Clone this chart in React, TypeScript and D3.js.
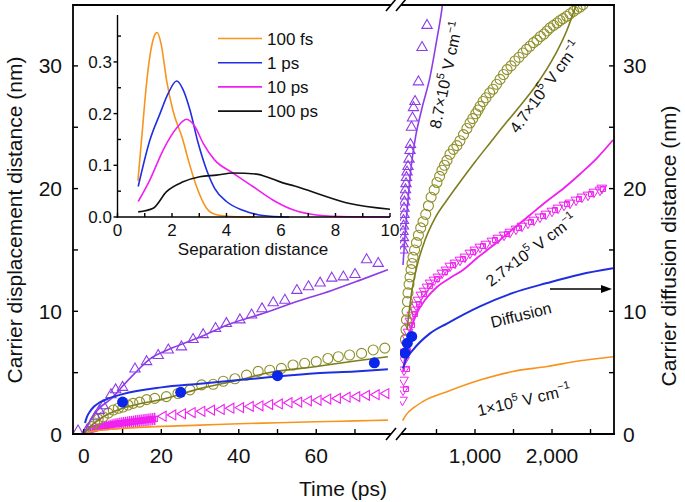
import * as d3 from 'd3';

type P = [number, number];

// ---- inset: separation distance distributions ----
const insetNames = ['100 fs', '1 ps', '10 ps', '100 ps'];
const insetColors = ['#f7941d', '#1f2fe0', '#f020f0', '#111111'];
const inset100fs: P[] = [[0.75, 0.07], [0.9, 0.16], [1.05, 0.25], [1.2, 0.315], [1.35, 0.35], [1.45, 0.357], [1.6, 0.335], [1.8, 0.265], [2.03, 0.207], [2.4, 0.149], [2.6, 0.11], [2.9, 0.059], [3.27, 0.017], [3.6, 0.005], [4.2, 0.001], [5, 0]];
const inset1ps: P[] = [[0.76, 0.059], [1.19, 0.149], [1.56, 0.2], [1.86, 0.239], [2.17, 0.263], [2.41, 0.246], [2.66, 0.207], [2.96, 0.143], [3.27, 0.091], [3.57, 0.055], [4.0, 0.03], [4.6, 0.013], [5.2, 0.004], [6.0, 0.0005], [6.3, 0]];
const inset10ps: P[] = [[0.76, 0.03], [1.19, 0.072], [1.68, 0.13], [2.17, 0.172], [2.53, 0.189], [2.84, 0.175], [3.14, 0.143], [3.57, 0.11], [4.24, 0.085], [4.97, 0.059], [5.7, 0.033], [6.44, 0.014], [7.3, 0.004], [8.5, 0.0005], [10, 0]];
const inset100ps: P[] = [[0.76, 0.01], [1.31, 0.017], [1.8, 0.049], [2.41, 0.068], [3.02, 0.078], [3.63, 0.081], [4.24, 0.085], [5.1, 0.083], [5.46, 0.078], [6.07, 0.066], [6.5, 0.06], [7.3, 0.046], [8.52, 0.026], [10, 0.015]];
const insetXTicks = [0, 2, 4, 6, 8, 10];
const insetYTicks = [0, 0.1, 0.2, 0.3];

// ---- main plot, left panel (0-80 ps) ----
const purpleTriL: P[] = [[-1.5, 0.25], [0.8, 0.3], [3, 1.4], [4, 1.9], [5, 2.3], [7, 3.2], [8.2, 3.6], [10, 3.8], [13.2, 5.3], [16.2, 5.9], [19.2, 6.4], [21.8, 6.85], [25.2, 7.1], [28.2, 7.7], [30.8, 8.1], [34, 8.6], [36.8, 9.0], [40.3, 9.3], [43.3, 9.7], [46, 10.2], [48.9, 10.7], [51.9, 10.9], [55, 11.7], [58, 12.0], [61, 12.3], [64, 12.7], [67, 12.8], [70, 13.0], [73, 14.2], [76, 13.9]];
const purpleLineL: P[] = [[0.3, 0.2], [1, 0.7], [2, 1.3], [4, 2.1], [7.5, 3.0], [10, 3.9], [13, 4.9], [17, 6.1], [22, 6.9], [30, 7.9], [38, 9.0], [47, 9.9], [55, 10.8], [64, 11.7], [71, 12.5], [78.5, 13.4]];
const oliveCircL: P[] = [[2.0, 0.6], [2.8, 0.9], [3.7, 1.2], [5.0, 1.4], [6.3, 1.7], [7.6, 1.95], [8.9, 2.1], [10.1, 2.2], [11.4, 2.36], [12.7, 2.5], [14.4, 2.6], [16.2, 2.8], [18.3, 2.9], [21.3, 3.05], [24.3, 3.3], [27.4, 3.6], [30.4, 4.0], [33.4, 4.05], [36, 4.3], [39, 4.5], [42, 4.8], [45, 5.1], [48, 5.2], [51, 5.35], [54, 5.62], [57, 5.76], [60, 5.9], [63, 6.15], [65.7, 6.3], [68.6, 6.44], [71.7, 6.57], [74.7, 6.85], [77.7, 7.0]];
const oliveLineL: P[] = [[0.3, 0.1], [2, 0.7], [5, 1.4], [10, 2.1], [15, 2.5], [20, 2.8], [30, 3.7], [40, 4.4], [47, 4.95], [60, 5.5], [70, 5.95], [78.5, 6.3]];
const blueDotL: P[] = [[10, 2.6], [25, 3.4], [50, 4.75], [75, 5.8]];
const blueLineL: P[] = [[0.3, 0.9], [0.8, 1.4], [1.5, 1.8], [2.5, 2.2], [4, 2.55], [6, 2.85], [10, 3.25], [20, 3.8], [30, 4.1], [40, 4.4], [47, 4.6], [60, 4.95], [70, 5.1], [78.5, 5.27]];
const magTriT = [20.5, 23, 25.5, 28, 30.5, 33, 35.5, 38, 40.5, 43, 45.5, 48, 50.5, 53, 55.5, 58, 60.5, 63, 65.5, 68, 70.5, 73, 75.5, 78];
const magTriV = [1.45, 1.55, 1.65, 1.75, 1.85, 1.95, 2.0, 2.1, 2.15, 2.25, 2.3, 2.4, 2.45, 2.55, 2.6, 2.7, 2.75, 2.85, 2.9, 3.0, 3.05, 3.15, 3.2, 3.3];
const magSqT = [1.8, 2.3, 2.8, 3.3, 3.8, 4.3, 4.8, 5.3, 5.8, 6.3, 6.8, 7.3, 7.8, 8.3, 8.8, 9.3, 9.8, 10.3, 10.8, 11.3, 11.8, 12.3, 12.8, 13.3, 13.8, 14.3, 14.8, 15.3, 15.8, 16.3, 16.8, 17.3, 17.8, 18.3];
const magSqV = [0.35, 0.4, 0.45, 0.5, 0.55, 0.58, 0.62, 0.65, 0.68, 0.71, 0.74, 0.77, 0.8, 0.82, 0.84, 0.87, 0.89, 0.91, 0.93, 0.95, 0.97, 0.99, 1.01, 1.03, 1.05, 1.07, 1.09, 1.11, 1.13, 1.15, 1.17, 1.19, 1.21, 1.23];
const magSqErr = [0.2, 0.22, 0.25, 0.27, 0.3, 0.32, 0.34, 0.36, 0.38, 0.4, 0.42, 0.44, 0.45, 0.46, 0.46, 0.47, 0.47, 0.48, 0.48, 0.48, 0.49, 0.49, 0.49, 0.5, 0.5, 0.5, 0.5, 0.5, 0.5, 0.5, 0.5, 0.5, 0.5, 0.5];
const orangeLineL: P[] = [[0, 0], [1, 0.12], [3, 0.25], [5, 0.32], [10, 0.45], [20, 0.62], [30, 0.72], [40, 0.83], [50, 0.92], [60, 1.0], [70, 1.07], [78.5, 1.13]];

// ---- main plot, right panel (up to 2,800 ps) ----
const orangeLineR: P[] = [[60, 1.1], [110, 1.6], [195, 2.1], [325, 2.65], [636, 3.45], [1065, 4.4], [1494, 5.1], [1935, 5.5], [2364, 5.97], [2792, 6.3]];
const blueLineR: P[] = [[65, 5.35], [100, 6.0], [195, 6.85], [416, 8.2], [636, 9.0], [1065, 10.4], [1494, 11.5], [1935, 12.3], [2364, 13.0], [2792, 13.5]];
const blueDotR: P[] = [[91, 6.6], [121, 7.4], [178, 7.95]];
const magLineR: P[] = [[65, 5.05], [104, 6.85], [156, 8.31], [234, 9.7], [351, 10.92], [506, 11.98], [675, 12.71], [844, 13.37], [1026, 14.34], [1260, 15.48], [1494, 16.71], [1714, 17.85], [1935, 18.99], [2156, 20.05], [2364, 21.19], [2584, 22.49], [2792, 23.96]];
const magMarkR: P[] = [[58, 2.77], [65, 3.59], [71, 4.4], [78, 5.22], [84, 6.03], [91, 6.68], [104, 7.25], [117, 7.82], [130, 8.31], [143, 8.8], [156, 9.21], [182, 9.7], [208, 10.11], [234, 10.51], [260, 10.92], [299, 11.33], [338, 11.65], [377, 11.98], [416, 12.31], [468, 12.55], [519, 12.8], [571, 13.12], [623, 13.37], [675, 13.69], [740, 13.94], [805, 14.18], [870, 14.43], [935, 14.75], [1000, 15.0], [1065, 15.24], [1143, 15.48], [1221, 15.73], [1299, 15.97], [1377, 16.22], [1455, 16.46], [1532, 16.71], [1610, 16.95], [1688, 17.2], [1766, 17.44], [1844, 17.69], [1922, 17.93], [2000, 18.17], [2078, 18.42], [2156, 18.66], [2234, 18.83], [2312, 19.07], [2390, 19.32], [2468, 19.48], [2545, 19.72], [2623, 19.89], [2649, 20.05]];
const purpleLineR: P[] = [[65, 13.77], [91, 16.2], [130, 19.07], [169, 21.68], [221, 23.96], [312, 26.57], [416, 29.1], [503, 32.1], [568, 34.55], [584, 35.3]];
const purpleTriR: P[] = [[65, 15.0], [65, 15.5], [71, 16.0], [65, 16.5], [71, 16.95], [71, 17.4], [78, 17.9], [78, 18.4], [84, 18.9], [91, 19.4], [97, 19.9], [104, 20.4], [110, 20.9], [117, 21.35], [130, 21.8], [143, 22.4], [156, 23.1], [162, 23.6], [175, 25.0], [188, 25.75], [201, 26.6], [221, 27.1], [266, 28.7], [312, 31.5], [377, 33.3]];
const oliveLineR: P[] = [[117, 8.48], [182, 11.74], [260, 14.02], [351, 15.81], [481, 17.6], [636, 19.07], [805, 20.54], [1000, 22.17], [1195, 23.72], [1390, 25.26], [1584, 26.73], [1805, 28.52], [2039, 30.89], [2195, 32.93], [2299, 34.72], [2330, 35.3]];
const oliveCircR: P[] = [[97, 7.7], [104, 8.5], [110, 9.3], [117, 10.0], [123, 10.8], [130, 11.5], [143, 12.2], [156, 12.8], [169, 13.4], [182, 13.9], [195, 14.4], [215, 15.0], [240, 15.6], [265, 16.2], [295, 16.8], [325, 17.3], [360, 17.9], [395, 18.6], [430, 19.3], [470, 19.9], [506, 20.5], [540, 21.0], [571, 21.5], [604, 21.9], [636, 22.3], [675, 22.8], [720, 23.2], [765, 23.5], [805, 23.9], [850, 24.4], [895, 24.9], [935, 25.35], [970, 25.7], [1010, 26.1], [1040, 26.4], [1065, 26.7], [1105, 27.1], [1143, 27.4], [1190, 27.8], [1234, 28.1], [1280, 28.5], [1325, 28.9], [1370, 29.3], [1416, 29.7], [1467, 30.0], [1519, 30.4], [1571, 30.7], [1623, 31.05], [1668, 31.35], [1714, 31.6], [1760, 31.9], [1805, 32.1], [1850, 32.4], [1896, 32.6], [1935, 32.85], [1974, 33.1], [2020, 33.3], [2065, 33.5], [2104, 33.7], [2143, 33.85], [2190, 34.05], [2234, 34.25], [2280, 34.45], [2325, 34.65], [2365, 34.8], [2403, 35.0]];

const xTicksL = [0, 20, 40, 60];
const xMinorL = [10, 30, 50, 70];
const xTicksR = [1000, 2000];
const xMinorR = [500, 1500, 2500];
const yTicks = [0, 10, 20, 30];
const yMinor = [5, 15, 25];

const PURPLE = '#8e3de6';
const OLIVE = '#8f8f2a';
const BLUE = '#1f2fe0';
const MAG = '#f020f0';
const ORANGE = '#f7941d';
const FONT = "'Liberation Sans', Arial, Helvetica, sans-serif";

function Sci({ x, y, rot, mant }: { x: number; y: number; rot: number; mant: string }) {
  return (
    <text transform={`translate(${x},${y}) rotate(${rot})`} textAnchor="middle" fontSize={16} dy="0.35em">
      {mant}×10<tspan fontSize={11} dy={-7}>5</tspan>
      <tspan dy={7}> V cm</tspan>
      <tspan fontSize={11} dy={-7}>−1</tspan>
    </text>
  );
}

export default function App() {
  const xL = d3.scaleLinear().domain([-2.8, 79.3]).range([73, 391]);
  const xR = d3.scaleLinear().domain([0, 2805]).range([398, 614]);
  const y = d3.scaleLinear().domain([0, 35]).range([434, 4.55]);
  const xi = d3.scaleLinear().domain([0, 10]).range([117.5, 390]);
  const yi = d3.scaleLinear().domain([0, 0.39]).range([217, 15.4]);

  const lineL = d3.line<P>().x(d => xL(d[0])).y(d => y(d[1])).curve(d3.curveMonotoneX);
  const lineR = d3.line<P>().x(d => xR(d[0])).y(d => y(d[1])).curve(d3.curveMonotoneX);
  const lineI = d3.line<P>().x(d => xi(d[0])).y(d => yi(d[1])).curve(d3.curveMonotoneX);

  const tri = d3.symbol().type(d3.symbolTriangle).size(46)() as string;
  const triS = d3.symbol().type(d3.symbolTriangle).size(42)() as string;
  const sq = d3.symbol().type(d3.symbolSquare).size(26)() as string;

  const insetSeries = [inset100fs, inset1ps, inset10ps, inset100ps];

  return (
    <svg width={685} height={502} style={{ position: 'absolute', left: 0, top: 0, background: '#fff' }} fontFamily={FONT}>
      <defs>
        <clipPath id="clipL"><rect x={73} y={5} width={318} height={429} /></clipPath>
        <clipPath id="clipR"><rect x={400} y={5} width={214} height={429} /></clipPath>
      </defs>

      {/* left panel data */}
      <g clipPath="url(#clipL)">
        {magSqT.map((t, i) => (
          <g key={'sq' + i}>
            <line x1={xL(t)} x2={xL(t)} y1={y(magSqV[i] - magSqErr[i])} y2={y(magSqV[i] + magSqErr[i])} stroke={MAG} strokeWidth={1.3} />
            <path d={sq} transform={`translate(${xL(t)},${y(magSqV[i])})`} fill="none" stroke={MAG} strokeWidth={1.2} />
          </g>
        ))}
        {magTriT.map((t, i) => (
          <path key={'mt' + i} d={triS} transform={`translate(${xL(t)},${y(magTriV[i])}) rotate(-90)`} fill="none" stroke={MAG} strokeWidth={1.1} />
        ))}
        {oliveCircL.map((d, i) => (
          <circle key={'oc' + i} cx={xL(d[0])} cy={y(d[1])} r={5} fill="none" stroke={OLIVE} strokeWidth={1.1} />
        ))}
        {purpleTriL.map((d, i) => (
          <path key={'pt' + i} d={tri} transform={`translate(${xL(d[0])},${y(d[1])})`} fill="none" stroke={PURPLE} strokeWidth={1.1} />
        ))}
        <path d={lineL(orangeLineL) as string} fill="none" stroke={ORANGE} strokeWidth={1.6} />
        <path d={lineL(oliveLineL) as string} fill="none" stroke="#7d7d1e" strokeWidth={1.6} />
        <path d={lineL(purpleLineL) as string} fill="none" stroke={PURPLE} strokeWidth={1.6} />
        <path d={lineL(blueLineL) as string} fill="none" stroke={BLUE} strokeWidth={2} />
        {blueDotL.map((d, i) => (
          <circle key={'bd' + i} cx={xL(d[0])} cy={y(d[1])} r={5.5} fill="#0a26e8" />
        ))}
      </g>

      {/* right panel data */}
      <g clipPath="url(#clipR)">
        {magMarkR.map((d, i) => (
          <g key={'mm' + i} transform={`translate(${xR(d[0])},${y(d[1])})`}>
            <path d={triS} transform="rotate(180)" fill="none" stroke={MAG} strokeWidth={1} />
            {i % 2 === 1 && <path d={sq} transform="translate(3,-1)" fill="none" stroke={MAG} strokeWidth={1} />}
          </g>
        ))}
        {oliveCircR.map((d, i) => (
          <circle key={'ocr' + i} cx={xR(d[0])} cy={y(d[1])} r={5} fill="none" stroke={OLIVE} strokeWidth={1.1} />
        ))}
        {purpleTriR.map((d, i) => (
          <path key={'ptr' + i} d={tri} transform={`translate(${xR(d[0])},${y(d[1])})`} fill="none" stroke={PURPLE} strokeWidth={1.1} />
        ))}
        <path d={lineR(orangeLineR) as string} fill="none" stroke={ORANGE} strokeWidth={1.6} />
        <path d={lineR(magLineR) as string} fill="none" stroke={MAG} strokeWidth={1.8} />
        <path d={lineR(oliveLineR) as string} fill="none" stroke="#7d7d1e" strokeWidth={1.6} />
        <path d={lineR(purpleLineR) as string} fill="none" stroke={PURPLE} strokeWidth={1.6} />
        <path d={lineR(blueLineR) as string} fill="none" stroke={BLUE} strokeWidth={2} />
        {blueDotR.map((d, i) => (
          <circle key={'bdr' + i} cx={xR(d[0])} cy={y(d[1])} r={5.5} fill="#0a26e8" />
        ))}
      </g>

      {/* frame with axis break */}
      <g stroke="#000" strokeWidth={1.8} fill="none">
        <line x1={73} x2={73} y1={4.5} y2={434.9} />
        <line x1={614} x2={614} y1={4.5} y2={434.9} />
        <line x1={72.1} x2={391} y1={5} y2={5} />
        <line x1={401} x2={614.9} y1={5} y2={5} />
        <line x1={72.1} x2={391} y1={434} y2={434} />
        <line x1={401} x2={614.9} y1={434} y2={434} />
        {[5, 434].map(yy => (
          <g key={'br' + yy} strokeWidth={1.6}>
            <line x1={386} y1={yy + 6} x2={396} y2={yy - 6} />
            <line x1={396} y1={yy + 6} x2={406} y2={yy - 6} />
          </g>
        ))}
      </g>

      {/* ticks */}
      <g stroke="#000" strokeWidth={1.4}>
        {xTicksL.concat(xMinorL).map(t => <line key={'xl' + t} x1={xL(t)} x2={xL(t)} y1={434} y2={429} />)}
        {xTicksR.concat(xMinorR).map(t => <line key={'xr' + t} x1={xR(t)} x2={xR(t)} y1={434} y2={429} />)}
        {yTicks.slice(1).concat(yMinor).map(v => (
          <g key={'yt' + v}>
            <line x1={73} x2={78} y1={y(v)} y2={y(v)} />
            <line x1={614} x2={609} y1={y(v)} y2={y(v)} />
          </g>
        ))}
      </g>

      {/* tick labels */}
      <g fontSize={21} fill="#111">
        {xTicksL.map(t => <text key={'lxl' + t} x={xL(t)} y={463} textAnchor="middle">{t}</text>)}
        {xTicksR.map(t => <text key={'lxr' + t} x={xR(t)} y={463} textAnchor="middle">{d3.format(',')(t)}</text>)}
        {yTicks.map(v => <text key={'lyl' + v} x={62} y={y(v)} dy="0.36em" textAnchor="end">{v}</text>)}
        {yTicks.map(v => <text key={'lyr' + v} x={623} y={y(v)} dy="0.36em" textAnchor="start">{v}</text>)}
      </g>

      {/* axis titles */}
      <g fontSize={21} fill="#111">
        <text x={343} y={496} textAnchor="middle">Time (ps)</text>
        <text transform="translate(22,220) rotate(-90)" textAnchor="middle">Carrier displacement distance (nm)</text>
        <text transform="translate(676,246) rotate(-90)" textAnchor="middle">Carrier diffusion distance (nm)</text>
      </g>

      {/* annotations */}
      <g fill="#111">
        <Sci x={446} y={75} rot={-78} mant="8.7" />
        <Sci x={545} y={87} rot={-54} mant="4.7" />
        <Sci x={531} y={250} rot={-37} mant="2.7" />
        <Sci x={524} y={400} rot={-13} mant="1" />
        <text transform="translate(521,315) rotate(-14)" textAnchor="middle" fontSize={16} dy="0.35em">Diffusion</text>
        <line x1={550} x2={603} y1={289} y2={289} stroke="#000" strokeWidth={1.6} />
        <path d="M612,289 L601,285 L601,293 Z" fill="#000" />
      </g>

      {/* inset */}
      <g>
        {insetSeries.map((s, i) => (
          <path key={'is' + i} d={lineI(s) as string} fill="none" stroke={insetColors[i]} strokeWidth={1.6} />
        ))}
        <g stroke="#000" strokeWidth={1.4} fill="none">
          <line x1={117.5} x2={117.5} y1={15} y2={217.7} />
          <line x1={116.8} x2={390} y1={217} y2={217} />
          {d3.range(0, 11).map(t => <line key={'ixt' + t} x1={xi(t)} x2={xi(t)} y1={217} y2={213} />)}
          {insetYTicks.map(v => <line key={'iyt' + v} x1={113.5} x2={117.5} y1={yi(v)} y2={yi(v)} />)}
          {insetYTicks.map(v => <line key={'iym' + v} x1={117.5} x2={121} y1={yi(v + 0.05)} y2={yi(v + 0.05)} />)}
        </g>
        <g fontSize={17} fill="#111">
          {insetXTicks.map(t => <text key={'ixl' + t} x={xi(t)} y={236} textAnchor="middle">{t}</text>)}
          {insetYTicks.map(v => <text key={'iyl' + v} x={112} y={yi(v)} dy="0.36em" textAnchor="end">{v.toFixed(1)}</text>)}
          <text x={253} y={255} textAnchor="middle">Separation distance</text>
        </g>
        {insetNames.map((n, i) => (
          <g key={'lg' + i}>
            <line x1={218} x2={262} y1={38.5 + i * 24.2} y2={38.5 + i * 24.2} stroke={insetColors[i]} strokeWidth={1.6} />
            <text x={267} y={38.5 + i * 24.2} dy="0.36em" fontSize={17} fill="#111">{n}</text>
          </g>
        ))}
      </g>
    </svg>
  );
}
